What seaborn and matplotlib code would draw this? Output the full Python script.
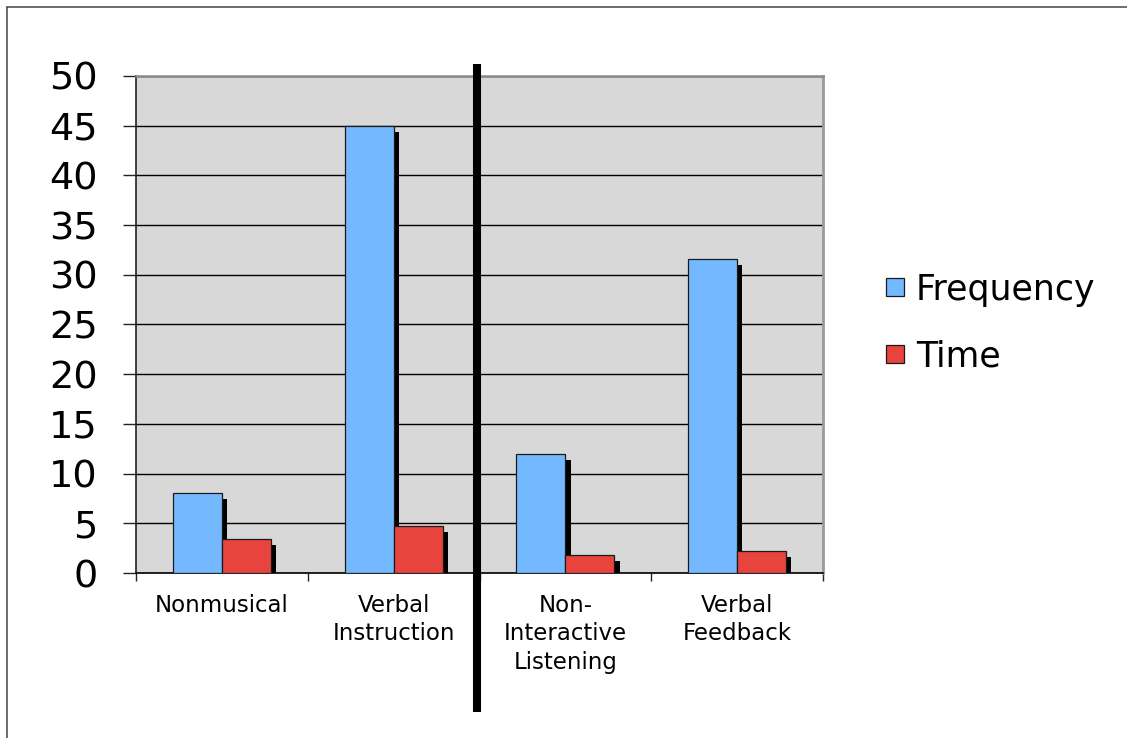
import matplotlib
matplotlib.use("Agg")
import matplotlib.pyplot as plt
import matplotlib.patheffects as pe
import matplotlib.transforms as mtransforms
from matplotlib.lines import Line2D
from matplotlib.ticker import FixedLocator
import numpy as np
import pandas as pd
import seaborn as sns

# Activity categories and the two measures recorded for each
categories = ["Nonmusical", "Verbal\nInstruction", "Non-\nInteractive\nListening", "Verbal\nFeedback"]
measures = ["Frequency", "Time"]
frequency = [8.0, 45.0, 12.0, 31.6]
time_vals = [3.4, 4.7, 1.8, 2.2]
y_ticks = [0, 5, 10, 15, 20, 25, 30, 35, 40, 45, 50]

colors = {"Frequency": "#74b9ff", "Time": "#e8443e"}

df = pd.DataFrame({
    "category": categories * 2,
    "measure": ["Frequency"] * len(categories) + ["Time"] * len(categories),
    "value": frequency + time_vals,
})

sns.set_style("white")
plt.rcParams["font.family"] = ["DejaVu Sans"]
plt.rcParams["text.color"] = "black"
plt.rcParams["xtick.color"] = "black"
plt.rcParams["ytick.color"] = "black"

W, H, DPI = 1127, 738, 100
fig = plt.figure(figsize=(W / DPI, H / DPI), dpi=DPI)
ax = fig.add_axes([136 / W, 1 - 573 / H, (823 - 136) / W, (573 - 76) / H])
ax.set_facecolor("#d8d8d8")

sns.barplot(
    data=df, x="category", y="value", hue="measure",
    order=categories, hue_order=measures, palette=colors,
    width=0.57, edgecolor="#1a1a1a", linewidth=0.9,
    legend=False, ax=ax, zorder=3, saturation=1,
)

# Drop shadow behind each bar
for patch in ax.patches:
    patch.set_path_effects([
        pe.SimplePatchShadow(offset=(3.8, -4.2), shadow_rgbFace="black", alpha=1.0),
        pe.Normal(),
    ])

ax.set_xlim(-0.5, len(categories) - 0.5)
ax.set_ylim(0, 50)
ax.set_xlabel("")
ax.set_ylabel("")

# Horizontal gridlines
ax.yaxis.set_major_locator(FixedLocator(y_ticks))
ax.grid(axis="y", color="black", linewidth=1.0, zorder=1)
ax.grid(axis="x", visible=False)
ax.set_axisbelow(True)

# Y tick labels
ax.tick_params(axis="y", which="major", direction="out", length=9.5, width=1.0,
               color="#222222", labelcolor="black", labelsize=27.5, pad=18, left=True)
ax.set_yticklabels([str(t) for t in y_ticks])

# Category labels centred, tick marks at category boundaries
ax.set_xticks(range(len(categories)))
ax.set_xticklabels(categories, fontsize=16.5, linespacing=1.3, color="black")
ax.xaxis.set_minor_locator(FixedLocator(np.arange(-0.5, len(categories), 1.0)))
ax.tick_params(axis="x", which="major", length=0, pad=15)
ax.tick_params(axis="x", which="minor", direction="out", length=5.5, width=1.0,
               color="#222222", bottom=True)

for side, col, lw in [("left", "#222222", 1.2), ("bottom", "#111111", 1.3),
                      ("top", "#8a8a8a", 1.8), ("right", "#9a9a9a", 2.0)]:
    ax.spines[side].set_visible(True)
    ax.spines[side].set_color(col)
    ax.spines[side].set_linewidth(lw)

# Vertical divider between the two groups of activities
trans = mtransforms.blended_transform_factory(ax.transData, ax.transAxes)
divider = Line2D([1.483, 1.483], [1.024, -0.280], transform=trans, color="black",
                 linewidth=5.8, solid_capstyle="butt", clip_on=False, zorder=10)
ax.add_line(divider)

# Legend
handles = [
    Line2D([0], [0], marker="s", linestyle="none", markersize=13.5,
           markerfacecolor=colors[m], markeredgecolor="#1a1a1a", markeredgewidth=0.9)
    for m in measures
]
fig.legend(handles, measures, loc="center left", bbox_to_anchor=(883 / W, 1 - 323 / H),
           frameon=False, fontsize=25, handlelength=0.7, handletextpad=0.25,
           labelspacing=0.95, borderpad=0, borderaxespad=0, labelcolor="black")

# Page frame on the left and top edges
fig.add_artist(Line2D([7 / W, 7 / W], [0, 1 - 7 / H], transform=fig.transFigure,
                      color="#444444", linewidth=1.1))
fig.add_artist(Line2D([7 / W, 1], [1 - 7 / H, 1 - 7 / H], transform=fig.transFigure,
                      color="#444444", linewidth=1.1))

fig.savefig("out.png", dpi=DPI, facecolor="white")
